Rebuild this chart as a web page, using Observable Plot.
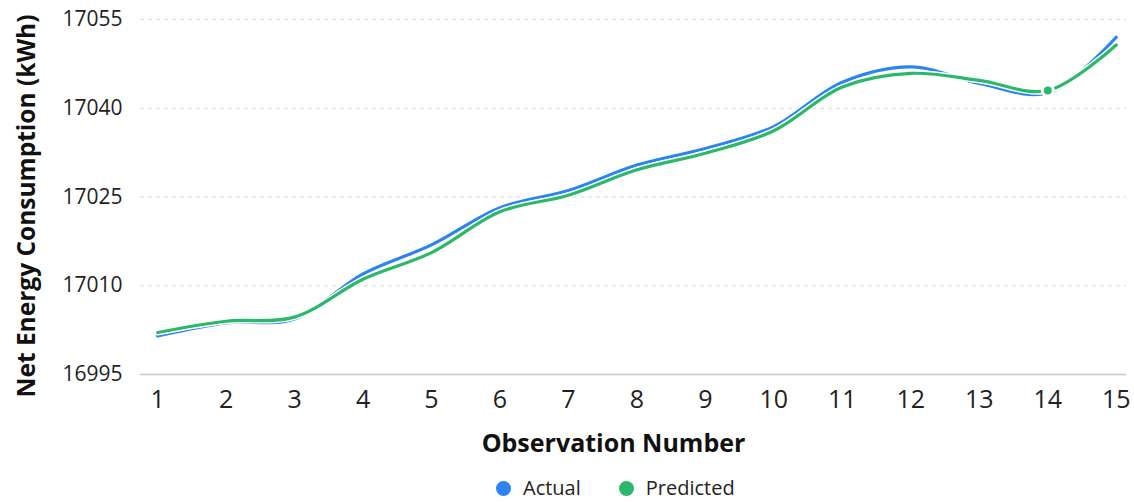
<!DOCTYPE html>
<html>
<head>
<meta charset="utf-8">
<script src="https://cdn.jsdelivr.net/npm/d3@7"></script>
<script src="https://cdn.jsdelivr.net/npm/@observablehq/plot@0.6"></script>
<style>
  html, body { margin: 0; padding: 0; background: #fff; }
  body { width: 1134px; height: 502px; overflow: hidden; font-family: "Open Sans", sans-serif; }
  #legend { display: flex; align-items: center; height: 24px; line-height: 24px; padding-left: 496px; margin-top: 11px; font-size: 20px; color: #222; }
  #legend .item { display: flex; align-items: center; }
  #legend .sw { width: 15px; height: 15px; border-radius: 50%; margin-right: 12px; }
  #legend .item + .item { margin-left: 38px; }
</style>
</head>
<body>
<div id="chart"></div>
<div id="legend"></div>
<script>
const observations = [1, 2, 3, 4, 5, 6, 7, 8, 9, 10, 11, 12, 13, 14, 15];
const actual = [17001.5, 17003.7, 17004.4, 17012.0, 17016.9, 17023.2, 17026.1, 17030.4, 17033.2, 17036.9, 17044.4, 17047.0, 17044.2, 17042.6, 17052.0];
const predicted = [17002.1, 17004.0, 17004.7, 17011.1, 17015.6, 17022.5, 17025.3, 17029.6, 17032.4, 17036.2, 17043.6, 17045.9, 17044.7, 17043.0, 17050.7];
const yTicks = [16995, 17010, 17025, 17040, 17055];
const seriesNames = ["Actual", "Predicted"];
const seriesColors = ["#2d84f0", "#2cb86a"];
const highlightIndex = 13;

const actualData = observations.map((o, i) => ({obs: o, value: actual[i]}));
const predictedData = observations.map((o, i) => ({obs: o, value: predicted[i]}));

const chart = Plot.plot({
  width: 1134,
  height: 465,
  marginLeft: 140,
  marginRight: 8,
  marginTop: 19,
  marginBottom: 91,
  style: {fontFamily: "Open Sans, sans-serif", background: "#fff", overflow: "visible"},
  x: {type: "linear", domain: [0.75, 15.15]},
  y: {domain: [16995, 17055]},
  marks: [
    Plot.ruleY(yTicks.slice(1), {stroke: "#d9d9d9", strokeWidth: 1, strokeDasharray: "4,4"}),
    Plot.ruleY([yTicks[0]], {stroke: "#c8c8c8", strokeWidth: 1.5}),
    Plot.axisY({ticks: yTicks, tickSize: 0, tickPadding: 18, fontSize: 21, fill: "#222", label: null, tickFormat: d => String(d)}),
    Plot.axisX({ticks: observations, tickSize: 0, tickPadding: 16, fontSize: 25, fill: "#222", label: null, tickFormat: d => String(d)}),
    Plot.text(["Net Energy Consumption (kWh)"], {frameAnchor: "left", text: d => d, textAnchor: "middle", lineAnchor: "middle", rotate: -90, dx: -113, dy: 9, fontSize: 24.5, fontWeight: "bold", fill: "#111"}),
    Plot.text(["Observation Number"], {frameAnchor: "bottom", text: d => d, textAnchor: "middle", lineAnchor: "middle", dx: -20, dy: 69, fontSize: 25, fontWeight: "bold", fill: "#111"}),
    Plot.line(actualData, {x: "obs", y: "value", curve: "catmull-rom", stroke: "#fff", strokeWidth: 6}),
    Plot.line(actualData, {x: "obs", y: "value", curve: "catmull-rom", stroke: seriesColors[0], strokeWidth: 3.2}),
    Plot.line(predictedData, {x: "obs", y: "value", curve: "catmull-rom", stroke: "#fff", strokeWidth: 6}),
    Plot.line(predictedData, {x: "obs", y: "value", curve: "catmull-rom", stroke: seriesColors[1], strokeWidth: 3.2}),
    Plot.dot([predictedData[highlightIndex]], {x: "obs", y: "value", r: 5.5, fill: seriesColors[1], stroke: "#fff", strokeWidth: 3})
  ]
});
document.getElementById("chart").appendChild(chart);

const legend = document.getElementById("legend");
seriesNames.forEach((name, i) => {
  const item = document.createElement("div");
  item.className = "item";
  const sw = document.createElement("span");
  sw.className = "sw";
  sw.style.background = seriesColors[i];
  const label = document.createElement("span");
  label.textContent = name;
  item.appendChild(sw);
  item.appendChild(label);
  legend.appendChild(item);
});
</script>
</body>
</html>
